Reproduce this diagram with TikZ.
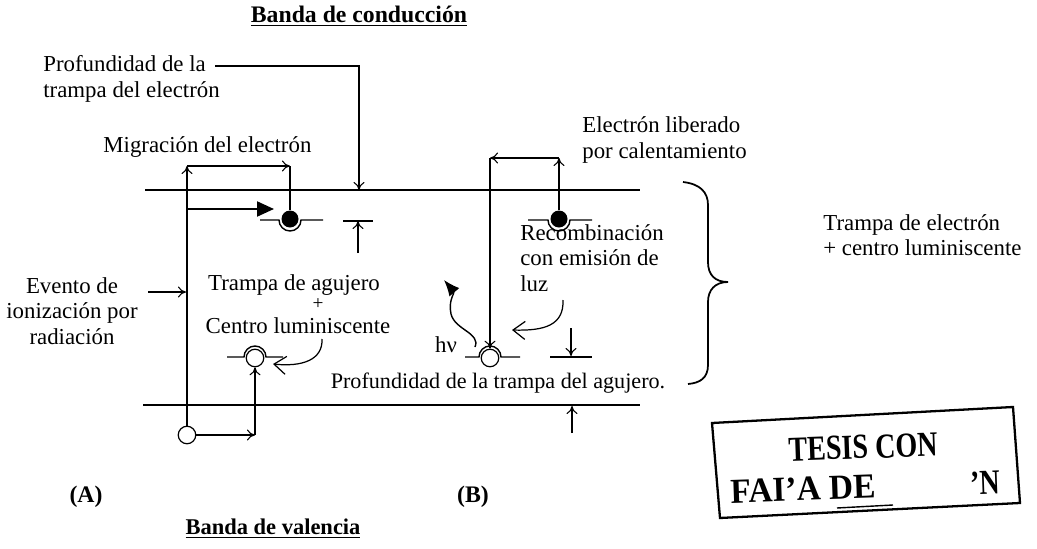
\documentclass[tikz,border=0pt]{standalone}
\usepackage{fontspec}
\setmainfont{Liberation Serif}
\usetikzlibrary{arrows.meta}
\tikzset{
  txt/.style={font=\fontsize{13}{14.5}\selectfont, inner sep=0pt, align=left},
  ttl/.style={font=\fontsize{13.5}{16}\selectfont\bfseries, inner sep=0pt},
  band/.style={line width=0.9pt},
  level/.style={line width=0.8pt},
  lead/.style={line width=0.6pt, -{To[length=1.6mm,width=2.2mm]}},
  bent/.style={line width=0.7pt, -{Straight Barb[length=2.4mm,width=3.6mm]}},
  elec/.style={circle, fill, inner sep=0pt, minimum size=3.4mm},
  hole/.style={circle, draw, line width=0.7pt, inner sep=0pt, minimum size=3.5mm},
  stamp/.style={font=\fontsize{20}{22}\selectfont\bfseries, inner sep=0pt, rotate=2}
}
\begin{document}
\begin{tikzpicture}[x=0.2mm,y=-0.2mm]
\useasboundingbox (0,0) rectangle (1037,549);
\node[ttl] (cond) at (359,16) {\underline{Banda de conducción}};
\node[ttl,font=\fontsize{12.8}{15}\selectfont\bfseries] (val) at (273,529) {\underline{Banda de valencia}};
\draw[band] (145,190) -- (640,190);
\draw[band] (143,405) -- (640,405);

\node[elec] (elecA) at (290,219) {};
\draw[level] (260,220) -- (279,220) arc (180:0:11) -- (323,220);
\node[elec] (elecB) at (559,219) {};
\draw[level] (528,220) -- (548,220) arc (180:0:11) -- (592,220);
\node[hole] (holeA) at (255,358) {};
\draw[level] (227,357) -- (244,357) arc (180:360:11) -- (283,357);
\node[hole] (holeB) at (490,358) {};
\draw[level] (465,357) -- (479,357) arc (180:360:11) -- (520,357);
\node[hole] (holeV) at (187,435) {};

\coordinate (mgA) at (187,166);
\coordinate (mgB) at (290,166);
\draw[lead] (holeV) -- (mgA);
\draw[lead] (mgA) -- (mgB);
\draw[line width=0.6pt] (mgB) -- (elecA);
\coordinate (hvB) at (255,435);
\draw[lead] (holeV) -- (hvB);
\draw[lead] (hvB) -- (holeA);
\coordinate (bgA) at (188,209);
\coordinate (bgB) at (274,209);
\draw[line width=1.2pt,-{Triangle[length=3.4mm,width=3mm]}] (bgA) -- (bgB);

\coordinate (lbA) at (559,158);
\coordinate (lbB) at (490,158);
\draw[lead] (elecB) -- (lbA);
\draw[lead] (lbA) -- (lbB);
\draw[lead] (lbB) -- (holeB);

\node[txt,anchor=west] (prof) at (43,79) {Profundidad de la\\trampa del electrón};
\coordinate (pfA) at (215,66);
\coordinate (pfB) at (359,190);
\draw[lead] (pfA) -| (pfB);
\coordinate (deA) at (358,253);
\coordinate (deB) at (358,221);
\draw[level] (343,221) -- (373,221);
\draw[lead] (deA) -- (deB);

\node[txt,anchor=west] (mig) at (103,147) {Migración del electrón};
\node[txt,anchor=west] (lib) at (582,140) {Electrón liberado\\por calentamiento};
\node[txt,align=center] (ev) at (72,311) {Evento de\\ionización por\\radiación};
\coordinate (evA) at (148,292);
\coordinate (evB) at (186,292);
\draw[lead] (evA) -- (evB);

\node[txt] (tagA) at (294,285) {Trampa de agujero};
\node[txt,font=\fontsize{11}{12}\selectfont] (plusA) at (318,304) {+};
\node[txt] (tagB) at (298,326) {Centro luminiscente};
\coordinate (cuA) at (322,339);
\coordinate (cuB) at (273,364);
\draw[bent] (cuA) .. controls (323,360) and (302,367) .. (cuB);

\node[txt,anchor=west] (rec) at (520,258) {Recombinación\\con emisión de\\luz};
\coordinate (luA) at (563,300);
\coordinate (luB) at (512,330);
\draw[bent] (luA) .. controls (564,325) and (545,331) .. (luB);

\node[txt] (hnu) at (446,345) {hν};
\coordinate (phA) at (475,347);
\coordinate (phB) at (444,280);
\draw[line width=0.8pt,-{Latex[length=3.2mm,width=2.6mm]}] (phA) .. controls (481,333) and (455,330) .. (451,314) .. controls (448,300) and (455,293) .. (phB);

\coordinate (dhA) at (571,328);
\coordinate (dhB) at (571,356);
\draw[level] (550,357) -- (592,357);
\draw[lead] (dhA) -- (dhB);
\coordinate (dvA) at (572,433);
\coordinate (dvB) at (572,406);
\draw[lead] (dvA) -- (dvB);
\node[txt,font=\fontsize{12.6}{14}\selectfont] (profB) at (498,383) {Profundidad de la trampa del agujero.};

\draw[line width=1pt] (683,182) .. controls (700,184) and (708,192) .. (708,205) -- (708,262) .. controls (708,275) and (715,282) .. (728,282) .. controls (715,282) and (708,290) .. (708,302) -- (708,365) .. controls (708,378) and (700,383) .. (688,384);
\node[txt,anchor=west] (tel) at (823,235) {Trampa de electrón\\+ centro luminiscente};

\node[ttl] (A) at (86,497) {(A)};
\node[ttl] (B) at (473,497) {(B)};

\draw[line width=1.3pt] (712,423) -- (1013,407) -- (1020,503) -- (720,518) -- cycle;
\node[stamp] (tesis) at (863,447) {\scalebox{0.8}[1]{TESIS CON}};
\node[stamp] (falta) at (803,489) {\scalebox{0.95}[1]{FAI'A DE}};
\node[stamp] (orig) at (985,483) {\scalebox{0.8}[1]{'N}};
\draw[line width=0.8pt] (837,508) -- (893,505);
\end{tikzpicture}
\end{document}
